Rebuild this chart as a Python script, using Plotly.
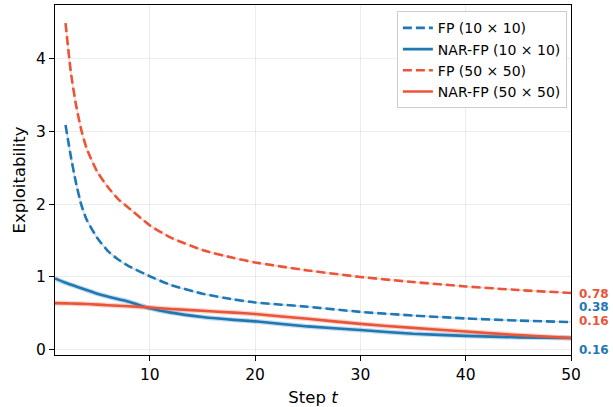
import plotly.graph_objects as go

# ---- data ----
t_fp = [2, 2.5, 3, 3.5, 4, 5, 6, 7, 8, 10, 12, 15, 18, 20, 25, 30, 35, 40, 45, 50]
fp_10 = [3.09, 2.66, 2.29, 1.99, 1.79, 1.54, 1.36, 1.24, 1.15, 1.01, 0.89, 0.77, 0.69, 0.65, 0.59, 0.52, 0.47, 0.43, 0.40, 0.38]
fp_50 = [4.49, 3.82, 3.36, 3.02, 2.77, 2.45, 2.24, 2.07, 1.95, 1.71, 1.54, 1.37, 1.26, 1.20, 1.09, 1.00, 0.93, 0.87, 0.82, 0.78]

t_nar = [1, 2, 3, 4, 5, 6, 8, 10, 12, 15, 18, 20, 25, 30, 35, 40, 45, 50]
nar_10 = [0.98, 0.92, 0.87, 0.82, 0.77, 0.73, 0.66, 0.57, 0.51, 0.45, 0.41, 0.39, 0.32, 0.27, 0.22, 0.19, 0.17, 0.16]
nar_50 = [0.64, 0.637, 0.633, 0.628, 0.62, 0.612, 0.597, 0.58, 0.56, 0.535, 0.51, 0.49, 0.425, 0.355, 0.30, 0.25, 0.20, 0.16]

names = ["FP (10 \u00d7 10)", "NAR-FP (10 \u00d7 10)", "FP (50 \u00d7 50)", "NAR-FP (50 \u00d7 50)"]
x_ticks = [10, 20, 30, 40, 50]
y_ticks = [0, 1, 2, 3, 4]

BLUE = "#1f77b4"
RED = "#ea5538"
BLUE_L = "rgba(31,119,180,0.25)"
RED_L = "rgba(234,85,56,0.25)"

fig = go.Figure()

series = [
    (t_fp, fp_10, names[0], BLUE, BLUE_L, "9px,4px"),
    (t_nar, nar_10, names[1], BLUE, BLUE_L, "solid"),
    (t_fp, fp_50, names[2], RED, RED_L, "9px,4px"),
    (t_nar, nar_50, names[3], RED, RED_L, "solid"),
]

# faint bands under curves
for x, y, n, c, cl, d in series:
    fig.add_trace(go.Scatter(x=x, y=y, mode="lines",
                             line=dict(color=cl, width=5 if d == "solid" else 1.5, shape="spline", smoothing=0.5),
                             showlegend=False, hoverinfo="skip"))

for x, y, n, c, cl, d in series:
    fig.add_trace(go.Scatter(x=x, y=y, mode="lines", name=n,
                             line=dict(color=c, width=2.6, dash=d, shape="spline", smoothing=0.5)))

# end-value labels
label_specs = [
    (f"{fp_50[-1]:.2f}", RED, 0.77),
    (f"{fp_10[-1]:.2f}", BLUE, 0.59),
    (f"{nar_50[-1]:.2f}", RED, 0.39),
    (f"{nar_10[-1]:.2f}", BLUE, 0.00),
]
for txt, col, yy in label_specs:
    fig.add_annotation(x=1.0, xref="paper", y=yy, yref="y", text=f"<b>{txt}</b>",
                       showarrow=False, xanchor="left", xshift=6,
                       font=dict(color=col, size=12, family="DejaVu Sans"))

axis_common = dict(showline=True, linecolor="black", linewidth=1.2, mirror=True,
                   ticks="outside", ticklen=5, tickcolor="black",
                   showgrid=True, gridcolor="rgba(0,0,0,0.07)", gridwidth=1,
                   zeroline=False, automargin=False,
                   tickfont=dict(size=15.5, color="black"))

fig.update_layout(
    width=613, height=407,
    margin=dict(l=55, r=42, t=5, b=52),
    paper_bgcolor="white", plot_bgcolor="white",
    font=dict(family="DejaVu Sans", color="black", size=13),
    xaxis=dict(range=[1, 50], tickvals=x_ticks,
               title=dict(text="Step <i>t</i>", standoff=10, font=dict(size=16.5)), **axis_common),
    yaxis=dict(range=[-0.073, 4.74], tickvals=y_ticks,
               title=dict(text="Exploitability", standoff=6, font=dict(size=16.5)), **axis_common),
    legend=dict(x=0.992, y=0.982, xanchor="right", yanchor="top",
                bgcolor="rgba(255,255,255,0.85)", bordercolor="#cccccc", borderwidth=1,
                font=dict(size=14), tracegroupgap=0, itemwidth=30),
    showlegend=True,
)

fig.write_html("out.html", config={"displayModeBar": False},
               post_script="document.body.style.margin='0';")
